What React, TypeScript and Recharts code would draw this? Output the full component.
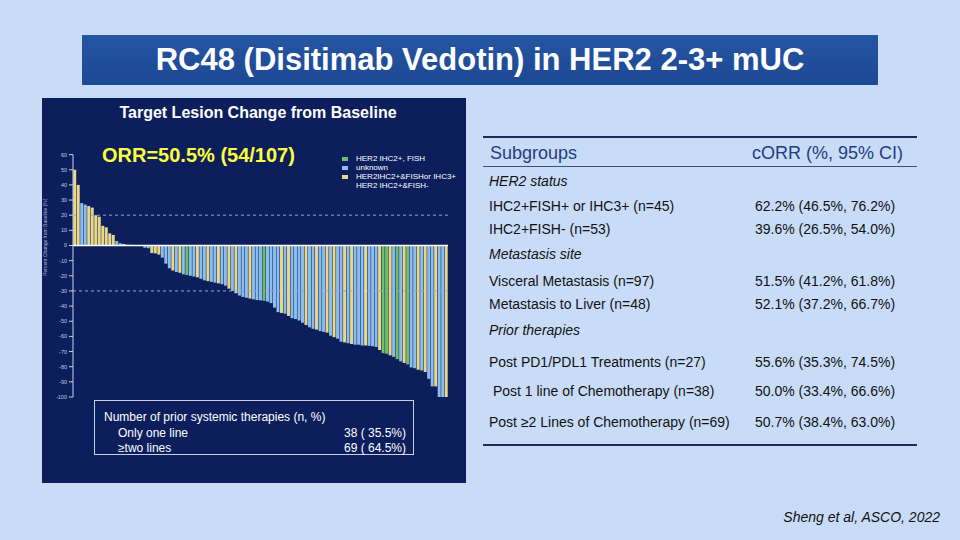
import { BarChart, Bar, Cell, XAxis, YAxis, ReferenceLine } from 'recharts'

// percent change from baseline, one value per patient (sorted waterfall)
const changeValues = [
  50, 40, 28, 27, 26, 25, 20, 19, 13, 12, 8, 7, 3, 1.5, 1, 0.5, 0.4, 0.3, 0.2, -0.3,
  -1.5, -1.8, -5, -5.2, -6, -8, -12, -15, -16.5, -17.5, -18, -19, -19.5, -20, -20.5, -21, -22, -23, -23.5, -24,
  -24.5, -25, -25.5, -26.5, -28.5, -30, -31.5, -33, -34, -34.5, -35, -35.5, -36, -36.2, -36.5, -37, -38, -41, -44, -44.5,
  -45, -46.5, -48, -48.5, -49.5, -51, -52.5, -54, -55, -55.5, -56.5, -57, -57.5, -59.5, -60.5, -61.5, -63.5, -64, -64.5, -65,
  -65.5, -65.5, -66, -66, -66.2, -66.5, -67, -69, -71, -71.5, -72.5, -73.5, -75, -76.5, -77.5, -78.5, -80.5, -81, -82, -82.5,
  -83.5, -88, -93, -93, -100, -100, -100,
]

// HER2 group per patient: G = IHC2+ FISH, B = unknown, Y = IHC2+&FISH+ or IHC3+ / IHC2+&FISH-
const groupCodes = [
  'Y', 'Y', 'B', 'B', 'Y', 'Y', 'Y', 'Y', 'Y', 'Y', 'Y', 'Y', 'B', 'B', 'Y', 'B', 'G', 'B', 'B', 'B',
  'B', 'B', 'Y', 'Y', 'Y', 'B', 'B', 'B', 'Y', 'B', 'Y', 'B', 'G', 'B', 'B', 'Y', 'B', 'B', 'Y', 'B',
  'B', 'Y', 'B', 'B', 'Y', 'B', 'Y', 'B', 'B', 'B', 'Y', 'B', 'B', 'B', 'G', 'B', 'B', 'B', 'B', 'Y',
  'B', 'Y', 'B', 'B', 'B', 'B', 'Y', 'B', 'B', 'Y', 'B', 'B', 'Y', 'B', 'Y', 'B', 'B', 'Y', 'B', 'Y',
  'B', 'B', 'B', 'Y', 'B', 'B', 'B', 'Y', 'G', 'G', 'Y', 'B', 'G', 'B', 'Y', 'G', 'B', 'B', 'Y', 'B',
  'Y', 'B', 'B', 'Y', 'B', 'B', 'Y',
]

const yTicks = [60, 50, 40, 30, 20, 10, 0, -10, -20, -30, -40, -50, -60, -70, -80, -90, -100]

const legendLabels = ['HER2 IHC2+, FISH', 'unknown', 'HER2IHC2+&FISHor IHC3+', 'HER2 IHC2+&FISH-']
const legendCodes = ['G', 'B', 'Y', '']

const priorLabels = ['Only one line', '≥two lines']
const priorValues = ['38 ( 35.5%)', '69 ( 64.5%)']

const tableRows = [
  { label: 'HER2 status', value: '', italic: true },
  { label: 'IHC2+FISH+ or IHC3+ (n=45)', value: '62.2% (46.5%, 76.2%)' },
  { label: 'IHC2+FISH- (n=53)', value: '39.6% (26.5%, 54.0%)' },
  { label: 'Metastasis site', value: '', italic: true },
  { label: 'Visceral Metastasis (n=97)', value: '51.5% (41.2%, 61.8%)' },
  { label: 'Metastasis to Liver (n=48)', value: '52.1% (37.2%, 66.7%)' },
  { label: 'Prior therapies', value: '', italic: true },
  { label: 'Post PD1/PDL1 Treatments (n=27)', value: '55.6% (35.3%, 74.5%)' },
  { label: ' Post 1 line of Chemotherapy (n=38)', value: '50.0% (33.4%, 66.6%)' },
  { label: 'Post ≥2 Lines of Chemotherapy (n=69)', value: '50.7% (38.4%, 63.0%)' },
]
const rowCenters = [182, 207, 230, 255, 282, 305, 331, 363, 392, 423]

const groupColors: Record<string, string> = {
  G: '#6fbf6c',
  B: '#8dbdec',
  Y: '#e9d888',
}

const font = '"Liberation Sans", Arial, sans-serif'

export default function App() {
  const data = changeValues.map((v, i) => ({ id: i + 1, change: v, group: groupCodes[i] }))

  return (
    <div
      style={{
        position: 'fixed',
        left: 0,
        top: 0,
        width: 960,
        height: 540,
        background: '#c9dcf7',
        fontFamily: font,
        overflow: 'hidden',
      }}
    >
      {/* title banner */}
      <div
        style={{
          position: 'absolute',
          left: 82,
          top: 35,
          width: 796,
          height: 50,
          background: 'linear-gradient(#2555a3, #1d4894)',
          color: '#fff',
          fontWeight: 700,
          fontSize: 31,
          display: 'flex',
          alignItems: 'center',
          justifyContent: 'center',
        }}
      >
        RC48 (Disitimab Vedotin) in HER2 2-3+ mUC
      </div>

      {/* waterfall panel */}
      <div
        style={{
          position: 'absolute',
          left: 42,
          top: 98,
          width: 424,
          height: 385,
          background: '#0c1f5c',
        }}
      />
      <div
        style={{
          position: 'absolute',
          left: 42,
          top: 104,
          width: 432,
          textAlign: 'center',
          color: '#fff',
          fontWeight: 700,
          fontSize: 16,
        }}
      >
        Target Lesion Change from Baseline
      </div>
      <div style={{ position: 'absolute', left: 42, top: 97 }}>
        <BarChart
          width={426}
          height={387}
          data={data}
          margin={{ top: 57.6, right: 20, bottom: 87, left: 0 }}
          barCategoryGap="6%"
        >
          <XAxis dataKey="id" hide />
          <YAxis
            domain={[-100, 60]}
            ticks={yTicks}
            interval={0}
            width={31}
            stroke="#c8d2ec"
            tickSize={4}
            tick={{ fontSize: 5.5, fill: '#c0cae4', fontFamily: font }}
            label={{
              value: 'Percent Change from Baseline (%)',
              angle: -90,
              position: 'insideLeft',
              offset: 3,
              fontSize: 5,
              fill: '#a9b6d6',
              fontFamily: font,
            }}
          />
          <ReferenceLine y={20} stroke="#8ea6d6" strokeDasharray="3 3" />
          <ReferenceLine y={-30} stroke="#8ea6d6" strokeDasharray="3 3" />
          <Bar dataKey="change" isAnimationActive={false}>
            {data.map((d) => (
              <Cell key={d.id} fill={groupColors[d.group]} />
            ))}
          </Bar>
          <ReferenceLine y={0} stroke="#ffffff" strokeWidth={1.5} />
        </BarChart>
      </div>

      <div
        style={{
          position: 'absolute',
          left: 102,
          top: 144,
          color: '#ffff3c',
          fontWeight: 700,
          fontSize: 20,
        }}
      >
        ORR=50.5% (54/107)
      </div>

      {/* legend */}
      <div style={{ position: 'absolute', left: 342, top: 154, color: '#fff', fontSize: 8, lineHeight: '9px' }}>
        {legendLabels.map((label, i) => (
          <div key={label} style={{ display: 'flex', alignItems: 'center', height: 9 }}>
            <span
              style={{
                display: 'inline-block',
                width: 6,
                height: 4,
                marginRight: 8,
                background: legendCodes[i] ? groupColors[legendCodes[i]] : 'transparent',
              }}
            />
            {label}
          </div>
        ))}
      </div>

      {/* prior therapies box */}
      <div
        style={{
          position: 'absolute',
          left: 94,
          top: 400,
          width: 318,
          height: 53,
          border: '1px solid #c8d0e6',
          color: '#fff',
          fontSize: 12,
        }}
      >
        <div style={{ position: 'absolute', left: 9, top: 9 }}>Number of prior systemic therapies (n, %)</div>
        {priorLabels.map((label, i) => (
          <div key={label}>
            <div style={{ position: 'absolute', left: 23, top: 25 + i * 15 }}>{label}</div>
            <div style={{ position: 'absolute', right: 7, top: 25 + i * 15 }}>{priorValues[i]}</div>
          </div>
        ))}
      </div>

      {/* subgroup table */}
      <div style={{ position: 'absolute', left: 483, top: 136, width: 434, height: 1.5, background: '#1b2b5c' }} />
      <div style={{ position: 'absolute', left: 490, top: 143, fontSize: 18, color: '#1e3e7e' }}>Subgroups</div>
      <div style={{ position: 'absolute', left: 752, top: 143, fontSize: 18, color: '#1e3e7e' }}>
        cORR (%, 95% CI)
      </div>
      <div style={{ position: 'absolute', left: 483, top: 166, width: 434, height: 1, background: '#3a4f80' }} />
      {tableRows.map((row, i) => (
        <div key={row.label}>
          <div
            style={{
              position: 'absolute',
              left: 489,
              top: rowCenters[i] - 9,
              fontSize: 14,
              fontStyle: row.italic ? 'italic' : 'normal',
              color: '#111',
              whiteSpace: 'pre',
            }}
          >
            {row.label}
          </div>
          {row.value && (
            <div style={{ position: 'absolute', left: 755, top: rowCenters[i] - 9, fontSize: 14, color: '#111' }}>
              {row.value}
            </div>
          )}
        </div>
      ))}
      <div style={{ position: 'absolute', left: 483, top: 444, width: 434, height: 1.5, background: '#1b2b5c' }} />

      <div
        style={{
          position: 'absolute',
          right: 20,
          top: 509,
          fontSize: 14,
          fontStyle: 'italic',
          color: '#111',
        }}
      >
        Sheng et al, ASCO, 2022
      </div>
    </div>
  )
}
